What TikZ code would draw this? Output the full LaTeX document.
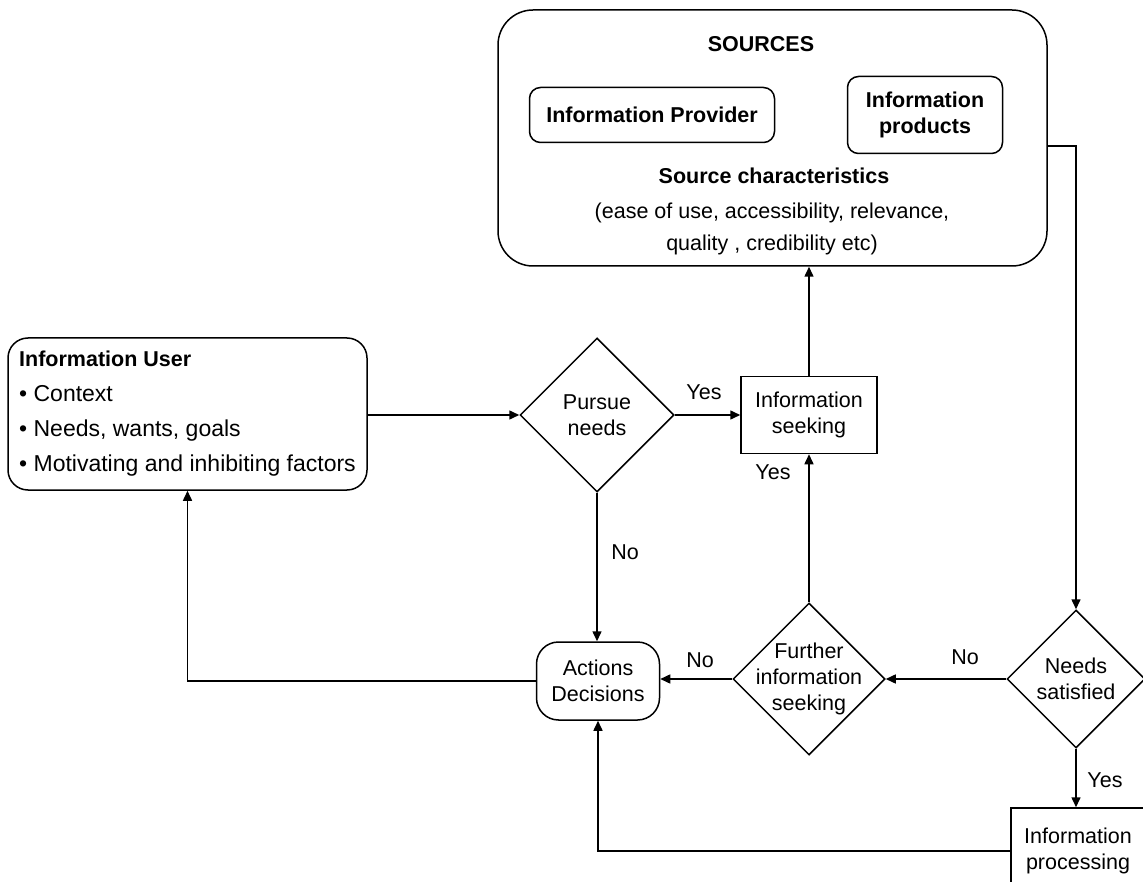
\documentclass[tikz,border=0pt]{standalone}
\usepackage{fontspec}
\setmainfont{Liberation Sans}
\usetikzlibrary{arrows.meta,shapes.geometric}
\newcommand\diagfont{\fontsize{21.5}{26}\selectfont}
\newcommand\userfont{\fontsize{23}{26}\selectfont}

\begin{document}
\begin{tikzpicture}[x=1pt,y=-1pt,
  every node/.style={font=\diagfont,inner sep=0pt},
  arr/.style={line width=1.5pt,-{Triangle[length=10pt,width=9pt]}},
  procbox/.style={draw,line width=1.5pt,rectangle,align=center},
  roundbox/.style={draw,line width=1.5pt,rectangle,rounded corners=#1,align=center},
  decision/.style={draw,line width=1.5pt,diamond,minimum width=#1,minimum height=#1},
  boldtext/.style={font=\diagfont\bfseries,align=center},
]
\useasboundingbox (0,0) rectangle (1143,882);
\clip (0,0) rectangle (1143,882);

% sources block
\node[roundbox=35, minimum width=549, minimum height=256] (sources) at (772.5,138) {};
\node[boldtext] (srctitle) at (761,44) {SOURCES};
\node[roundbox=11, minimum width=245, minimum height=55, boldtext] (provider) at (652,115) {Information Provider};
\node[roundbox=11, minimum width=155, minimum height=77, boldtext] (products) at (925,115) {Information\\products};
\node[boldtext] (srcchar) at (774,176) {Source characteristics};
\node[align=center] (srcdesc) at (772,229) {(ease of use, accessibility, relevance,\\[6pt]quality , credibility etc)};

% user
\node[roundbox=20, minimum width=359, minimum height=152, align=left] (user) at (187.5,414)
  {\diagfont\textbf{Information User}\\[9pt]\userfont • Context\\[9pt]\userfont • Needs, wants, goals\\[9pt]\userfont • Motivating and inhibiting factors};

% decisions and process steps
\node[decision=154] (pursue) at (597,415) {};
\node[align=center] (pursuetxt) at (pursue) {Pursue\\needs};
\node[procbox, minimum width=136, minimum height=77] (seek) at (809,415) {Information\\seeking};
\node[decision=152] (further) at (809,679) {};
\node[align=center] (furthertxt) at (further) {Further\\information\\seeking};
\node[roundbox=22, minimum width=123, minimum height=78] (actions) at (598,681) {Actions\\Decisions};
\node[decision=138] (satisfied) at (1076,679) {};
\node[align=center] (satisfiedtxt) at (satisfied) {Needs\\satisfied};
\node[procbox, minimum width=134, minimum height=86] (proc) at (1078,851) {Information\\processing};

% connectors
\draw[arr] (user.east |- pursue.west) -- (pursue.west);
\draw[arr] (pursue.east) -- (seek.west);
\draw[arr] (seek.north) -- (seek.north |- sources.south);
\draw[arr] (pursue.south) -- (pursue.south |- actions.north);
\draw[arr] (further.north) -- (seek.south);
\draw[arr] (satisfied.west) -- (further.east);
\draw[arr] (further.west) -- (further.west -| actions.east);
\draw[arr] (actions.west) -| (user.south);
\draw[arr] (proc.west) -| (actions.south);
\draw[arr] ([yshift=-8pt]sources.east) -| (satisfied.north);
\draw[arr] (satisfied.south) -- (satisfied.south |- proc.north);

% branch labels
\node (yes1) at (704,392) {Yes};
\node (no1) at (625,552) {No};
\node (yes2) at (773,472) {Yes};
\node (no2) at (965,657) {No};
\node (no3) at (700,660) {No};
\node (yes3) at (1105,780) {Yes};
\end{tikzpicture}
\end{document}
